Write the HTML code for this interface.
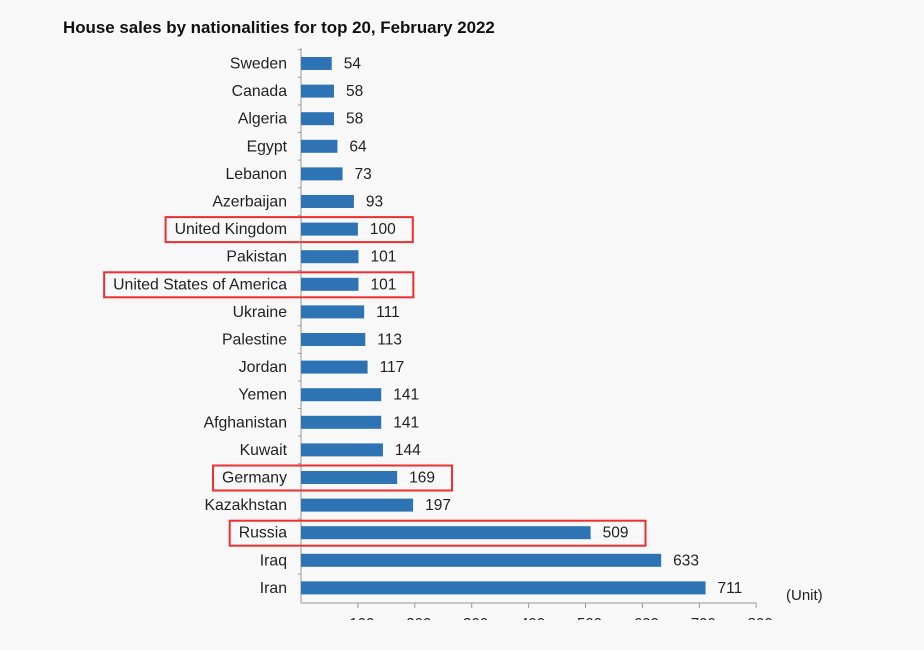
<!DOCTYPE html>
<html><head><meta charset="utf-8"><style>
body{margin:0;background:#f8f8f8;}
svg{display:block;font-family:"Liberation Sans",Arial,sans-serif;}
</style></head><body>
<svg id="chart" width="924" height="650">
<rect width="924" height="650" fill="#f8f8f8"/>
<text x="63" y="33" font-size="16.9" font-weight="bold" fill="#111">House sales by nationalities for top 20, February 2022</text>
<g id="plot"></g>
</svg>
<script>
const categories=["Sweden","Canada","Algeria","Egypt","Lebanon","Azerbaijan","United Kingdom","Pakistan","United States of America","Ukraine","Palestine","Jordan","Yemen","Afghanistan","Kuwait","Germany","Kazakhstan","Russia","Iraq","Iran"];
const values=[54,58,58,64,73,93,100,101,101,111,113,117,141,141,144,169,197,509,633,711];
const tickValues=[100,200,300,400,500,600,700,800];
const highlighted=["United Kingdom","United States of America","Germany","Russia"];
const x0=301, xs=0.569, yTop=63.5, step=27.6, bh=13, axisY=603;
const X=v=>x0+v*xs;
const Y=i=>yTop+i*step;
const NS="http://www.w3.org/2000/svg";
const g=document.getElementById('plot');
function mk(t,a){const e=document.createElementNS(NS,t);for(const k in a)e.setAttribute(k,a[k]);g.appendChild(e);return e;}
let ax=mk('line',{x1:x0,y1:48,x2:x0,y2:axisY,stroke:'#999','stroke-width':1});


let bx=mk('line',{x1:x0,y1:axisY,x2:X(800),y2:axisY,stroke:'#999','stroke-width':1});


const clip=mk('clipPath',{id:'tc'});
const cr=document.createElementNS(NS,'rect');cr.setAttribute('x',0);cr.setAttribute('y',0);cr.setAttribute('width',924);cr.setAttribute('height',620);clip.appendChild(cr);
tickValues.forEach(v=>{
  let t=mk('line',{x1:X(v),y1:axisY,x2:X(v),y2:axisY+5,stroke:'#999'});
  
  
  let l=mk('text',{x:X(v)+4,y:axisY+25,'font-size':15,fill:'#222','text-anchor':'middle','clip-path':'url(#tc)'});
  l.textContent=v;
  
  
});
categories.forEach((c,i)=>{
  const y=Y(i);
  let tk=mk('line',{x1:x0-3,y1:y-step/2,x2:x0,y2:y-step/2,stroke:'#999'});
  
  
  let b=mk('rect',{x:x0,y:y-bh/2,width:values[i]*xs,height:bh,fill:'#2e74b5'});
  
  
  let l=mk('text',{x:287,y:y+5,'font-size':15.8,fill:'#222','text-anchor':'end'});
  l.textContent=c;
  
  
  let v=mk('text',{x:X(values[i])+12,y:y+5,'font-size':15.5,fill:'#222'});
  v.textContent=values[i];
  
  
  if(highlighted.includes(c)){
    const left=287-l.getComputedTextLength()-9;
    const right=X(values[i])+12+v.getComputedTextLength()+17;
    let h=mk('rect',{x:left,y:y-12,width:right-left,height:25,fill:'none',stroke:'#ee2f2f','stroke-width':2});
    
    
  }
});
let u=mk('text',{x:786,y:600,'font-size':15,fill:'#222'});
u.textContent='(Unit)';


</script>
</body></html>
